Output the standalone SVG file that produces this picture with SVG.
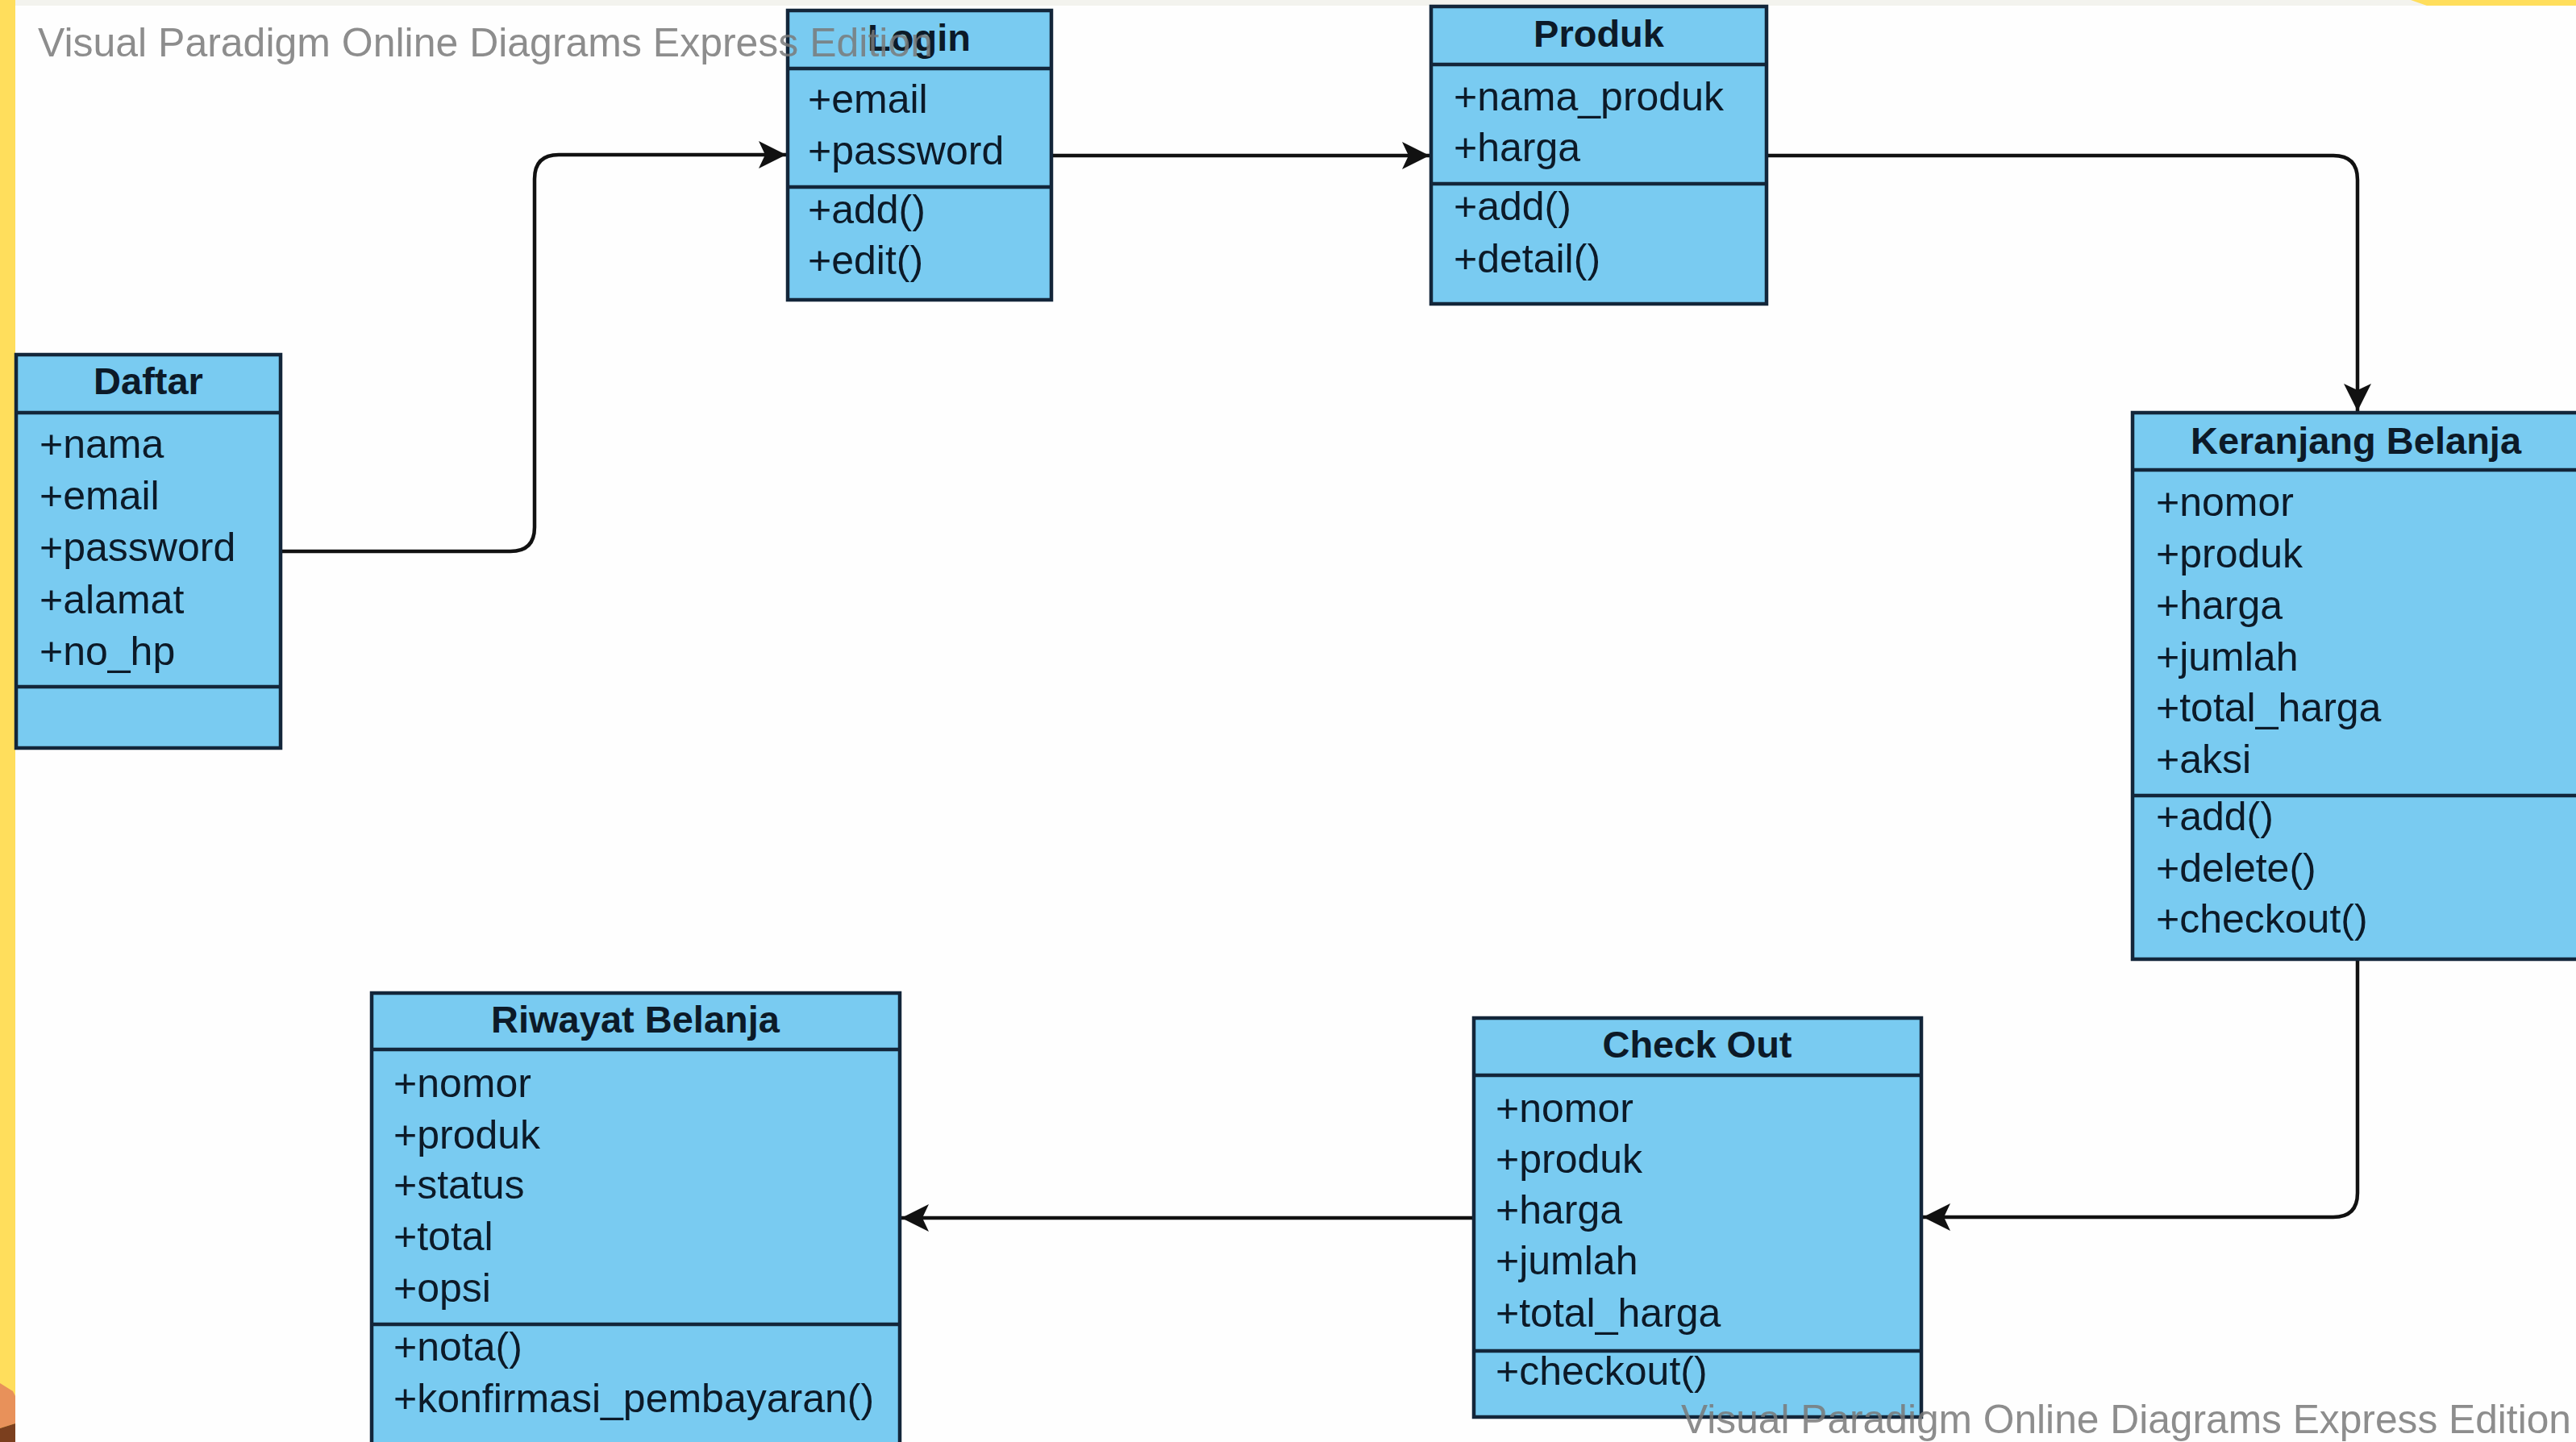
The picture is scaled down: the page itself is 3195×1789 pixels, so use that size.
<svg xmlns="http://www.w3.org/2000/svg" width="3195" height="1789" viewBox="0 0 3195 1789">
<style>
.box{fill:#79cbf1;stroke:#13263a;stroke-width:4.5}
.sep{stroke:#13263a;stroke-width:4.5;fill:none}
.title{font-family:"Liberation Sans",Arial,sans-serif;font-weight:bold;font-size:47px;fill:#0c1a28;text-anchor:middle}
.item{font-family:"Liberation Sans",Arial,sans-serif;font-size:50px;fill:#0c1a28}
.conn{fill:none;stroke:#111;stroke-width:4.5}
.wm{font-family:"Liberation Sans",Arial,sans-serif;font-size:50px;fill:#7a7a7a;opacity:0.85}
</style>
<defs>
<marker id="arrow" markerUnits="userSpaceOnUse" viewBox="-38 -20 40 40" markerWidth="40" markerHeight="40" refX="0" refY="0" orient="auto" overflow="visible">
<path d="M0,0 L-34,-17 L-26,0 L-34,17 Z" fill="#111"/>
</marker>
</defs>
<rect x="0" y="0" width="3195" height="1789" fill="#fefefe"/>
<rect x="0" y="0" width="3195" height="7" fill="#f3f3ee"/>
<path d="M2990,0 H3195 V7 H3010 Z" fill="#ffde5c"/>
<rect x="0" y="0" width="19" height="1789" fill="#ffde5c"/>
<path d="M0,1716 L16,1726 L19,1732 V1766 L0,1772 Z" fill="#e8915a"/>
<path d="M0,1772 L19,1766 V1789 H0 Z" fill="#7b3f1e"/>

<g id="connectors">
<path class="conn" d="M348,684 H633 Q663,684 663,654 V222 Q663,192 693,192 H975" marker-end="url(#arrow)"/>
<path class="conn" d="M1304,193 H1773" marker-end="url(#arrow)"/>
<path class="conn" d="M2191,193 H2894 Q2924,193 2924,223 V510" marker-end="url(#arrow)"/>
<path class="conn" d="M2924,1190 V1480 Q2924,1510 2894,1510 H2385" marker-end="url(#arrow)"/>
<path class="conn" d="M1828,1511 H1118" marker-end="url(#arrow)"/>
</g>

<g id="daftar">
<rect class="box" x="20" y="440" width="328" height="488"/>
<path class="sep" d="M20,512 H348 M20,852 H348"/>
<text class="title" x="184" y="489">Daftar</text>
<text class="item" x="49" y="568">+nama</text>
<text class="item" x="49" y="632">+email</text>
<text class="item" x="49" y="696">+password</text>
<text class="item" x="49" y="761">+alamat</text>
<text class="item" x="49" y="825">+no_hp</text>
</g>

<g id="login">
<rect class="box" x="977" y="13" width="327" height="359"/>
<path class="sep" d="M977,85 H1304 M977,232 H1304"/>
<text class="title" x="1140" y="63">Login</text>
<text class="item" x="1002" y="140">+email</text>
<text class="item" x="1002" y="204">+password</text>
<text class="item" x="1002" y="277">+add()</text>
<text class="item" x="1002" y="340">+edit()</text>
</g>

<g id="produk">
<rect class="box" x="1775" y="8" width="416" height="369"/>
<path class="sep" d="M1775,80 H2191 M1775,228 H2191"/>
<text class="title" x="1983" y="58">Produk</text>
<text class="item" x="1803" y="137">+nama_produk</text>
<text class="item" x="1803" y="200">+harga</text>
<text class="item" x="1803" y="273">+add()</text>
<text class="item" x="1803" y="338">+detail()</text>
</g>

<g id="keranjang-belanja">
<rect class="box" x="2645" y="512" width="556" height="678"/>
<path class="sep" d="M2645,583 H3201 M2645,987 H3201"/>
<text class="title" x="2922" y="563">Keranjang Belanja</text>
<text class="item" x="2674" y="640">+nomor</text>
<text class="item" x="2674" y="704">+produk</text>
<text class="item" x="2674" y="768">+harga</text>
<text class="item" x="2674" y="832">+jumlah</text>
<text class="item" x="2674" y="895">+total_harga</text>
<text class="item" x="2674" y="959">+aksi</text>
<text class="item" x="2674" y="1030">+add()</text>
<text class="item" x="2674" y="1094">+delete()</text>
<text class="item" x="2674" y="1157">+checkout()</text>
</g>

<g id="check-out">
<rect class="box" x="1828" y="1263" width="555" height="495"/>
<path class="sep" d="M1828,1334 H2383 M1828,1676 H2383"/>
<text class="title" x="2105" y="1312">Check Out</text>
<text class="item" x="1855" y="1392">+nomor</text>
<text class="item" x="1855" y="1455">+produk</text>
<text class="item" x="1855" y="1518">+harga</text>
<text class="item" x="1855" y="1581">+jumlah</text>
<text class="item" x="1855" y="1646">+total_harga</text>
<text class="item" x="1855" y="1718">+checkout()</text>
</g>

<g id="riwayat-belanja">
<rect class="box" x="461" y="1232" width="655" height="580"/>
<path class="sep" d="M461,1302 H1116 M461,1643 H1116"/>
<text class="title" x="788" y="1281">Riwayat Belanja</text>
<text class="item" x="488" y="1361">+nomor</text>
<text class="item" x="488" y="1425">+produk</text>
<text class="item" x="488" y="1487">+status</text>
<text class="item" x="488" y="1551">+total</text>
<text class="item" x="488" y="1615">+opsi</text>
<text class="item" x="488" y="1688">+nota()</text>
<text class="item" x="488" y="1752">+konfirmasi_pembayaran()</text>
</g>

<text class="wm" x="47" y="70" textLength="1110" lengthAdjust="spacingAndGlyphs">Visual Paradigm Online Diagrams Express Edition</text>
<text class="wm" x="2085" y="1778" textLength="1104" lengthAdjust="spacingAndGlyphs">Visual Paradigm Online Diagrams Express Edition</text>
</svg>
